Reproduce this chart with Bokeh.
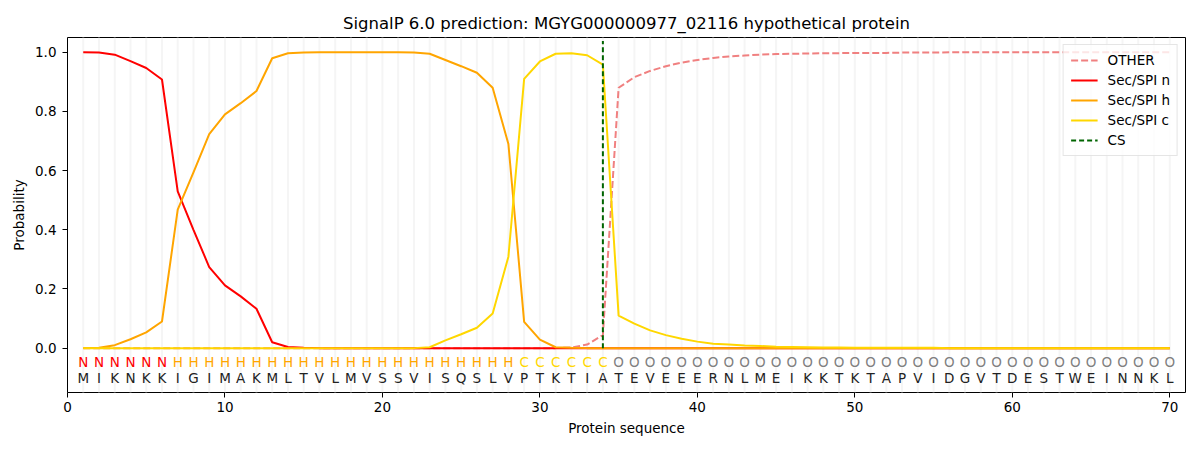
from bokeh.plotting import figure
from bokeh.models import Range1d, FixedTicker, Legend, LegendItem, CustomJSTickFormatter, ColumnDataSource
from bokeh.core.properties import value
from bokeh.embed import file_html
from bokeh.resources import INLINE

title = "SignalP 6.0 prediction: MGYG000000977_02116 hypothetical protein"
sequence = "MIKNKKIGIMAKMLTVLMVSSVISQSLVPTKTIATEVEEERNLMEIKKTKTAPVIDGVTDESTWEINNKL"
labels = "N" * 6 + "H" * 22 + "C" * 6 + "O" * 36

positions = list(range(1, 71))

sec_n = [1.0, 0.999, 0.992, 0.970, 0.947, 0.908, 0.530, 0.400, 0.274, 0.212,
         0.175, 0.133, 0.020, 0.004, 0.001] + [0.0] * 55

sec_h = ([0.0, 0.001, 0.010, 0.030, 0.053, 0.090, 0.468, 0.594, 0.723, 0.790,
          0.828, 0.869, 0.980, 0.997, 0.999] + [1.0] * 6 +
         [0.999, 0.995, 0.974, 0.953, 0.931, 0.880, 0.690, 0.089, 0.029, 0.003, 0.001] +
         [0.0] * 38)

sec_c = ([0.0] * 22 +
         [0.003, 0.026, 0.047, 0.069, 0.117, 0.309, 0.910, 0.969, 0.995, 0.997,
          0.990, 0.958, 0.110, 0.083, 0.060, 0.044, 0.032, 0.022, 0.015, 0.012,
          0.009, 0.007, 0.005, 0.004, 0.003, 0.002, 0.002, 0.001] +
         [0.001] * 5 + [0.0] * 15)

other = ([0.0] * 31 +
         [0.002, 0.012, 0.044, 0.880, 0.916, 0.937, 0.953, 0.965, 0.974, 0.981,
          0.986, 0.989, 0.992, 0.994, 0.995, 0.996, 0.997, 0.997, 0.998, 0.998,
          0.998, 0.999, 0.999, 0.999] + [1.0] * 15)

cs_position = 34

x_ticks = [0, 10, 20, 30, 40, 50, 60, 70]
y_ticks = [0.0, 0.2, 0.4, 0.6, 0.8, 1.0]

label_colors = {"N": "red", "H": "orange", "C": "gold", "O": "gray"}

FONT = "DejaVu Sans"

p = figure(width=1192, height=442, output_backend="svg", toolbar_location=None,
           x_range=Range1d(0, 71), y_range=Range1d(-0.15, 1.05),
           min_border_left=67, min_border_right=7, min_border_top=37, min_border_bottom=50)

p.title.text = title
p.title.align = "center"
p.title.text_font = FONT
p.title.text_font_size = "16.5px"
p.title.text_font_style = "normal"
p.title.text_color = "black"

p.xgrid.visible = False
p.ygrid.visible = False
p.outline_line_color = "black"
p.outline_line_width = 1
p.outline_line_alpha = 1.0

# light vertical guide lines at each residue
p.segment(x0=positions, y0=[-0.15] * 70, x1=positions, y1=[1.05] * 70,
          line_color="#f5f5f5", line_width=2)

r_other = p.line(positions, other, line_color="lightcoral", line_width=2, line_dash="7 3")
r_n = p.line(positions, sec_n, line_color="red", line_width=2)
r_h = p.line(positions, sec_h, line_color="orange", line_width=2)
r_c = p.line(positions, sec_c, line_color="gold", line_width=2)
r_cs = p.segment(x0=[cs_position], y0=[0.0], x1=[cs_position], y1=[1.038],
                 line_color="darkgreen", line_width=2, line_dash="5 3")

lab_src = ColumnDataSource(dict(
    x=positions,
    y=[-0.047] * 70,
    t=list(labels),
    c=[label_colors[l] for l in labels],
))
p.text(x="x", y="y", text="t", text_color="c", source=lab_src,
       text_align="center", text_baseline="middle",
       text_font=value(FONT), text_font_size="13.5px")

seq_src = ColumnDataSource(dict(x=positions, y=[-0.10] * 70, t=list(sequence)))
p.text(x="x", y="y", text="t", text_color="#222222", source=seq_src,
       text_align="center", text_baseline="middle",
       text_font=value(FONT), text_font_size="13.5px")

for ax in (p.xaxis[0], p.yaxis[0]):
    ax.major_label_text_font = FONT
    ax.major_label_text_font_size = "13.5px"
    ax.major_label_text_color = "black"
    ax.axis_label_text_font = FONT
    ax.axis_label_text_font_size = "13.5px"
    ax.axis_label_text_font_style = "normal"
    ax.axis_label_text_color = "black"
    ax.axis_line_color = None
    ax.major_tick_line_color = "black"
    ax.major_tick_out = 5
    ax.major_tick_in = 0
    ax.minor_tick_line_color = None
    ax.axis_label_standoff = 5

p.xaxis.axis_label = "Protein sequence"
p.yaxis.axis_label = "Probability"
p.xaxis.ticker = FixedTicker(ticks=x_ticks)
p.yaxis.ticker = FixedTicker(ticks=y_ticks)
p.xaxis.major_label_standoff = 4
p.yaxis.major_label_standoff = 6
p.yaxis.formatter = CustomJSTickFormatter(code="return tick.toFixed(1);")

legend = Legend(items=[
    LegendItem(label="OTHER", renderers=[r_other]),
    LegendItem(label="Sec/SPI n", renderers=[r_n]),
    LegendItem(label="Sec/SPI h", renderers=[r_h]),
    LegendItem(label="Sec/SPI c", renderers=[r_c]),
    LegendItem(label="CS", renderers=[r_cs]),
], location="top_right")
legend.margin = 7
legend.padding = 7
legend.spacing = 4
legend.glyph_width = 27
legend.glyph_height = 16
legend.label_height = 16
legend.label_standoff = 10
legend.label_text_font = FONT
legend.label_text_font_size = "13.5px"
legend.label_text_color = "black"
legend.border_line_color = "#cccccc"
legend.border_line_width = 1
legend.background_fill_alpha = 0.8
p.add_layout(legend)

open("out.html", "w").write(file_html(p, INLINE))
